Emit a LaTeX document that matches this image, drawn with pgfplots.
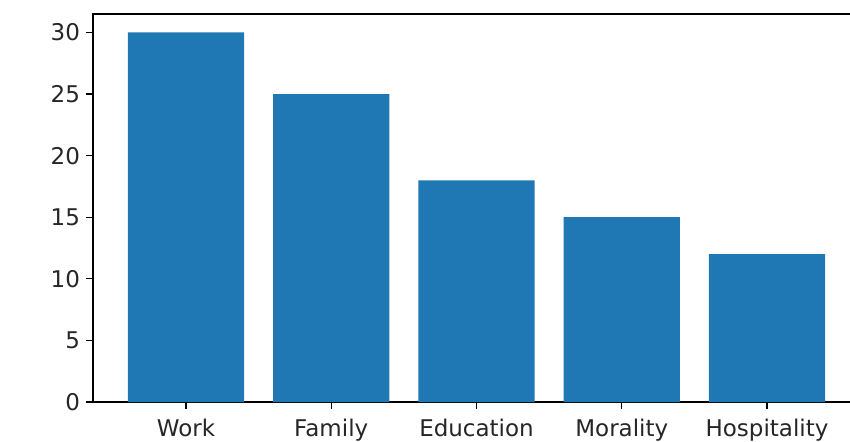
\documentclass[border=0pt]{standalone}
\usepackage{pgfplots}
\pgfplotsset{compat=1.18}
\usepackage{fontspec}
\setmainfont{DejaVu Sans}
\definecolor{mplblue}{HTML}{1F77B4}
\begin{document}
\begin{tikzpicture}
% the reference is cropped at the top and right
\clip (-46.5pt,-19.5pt) rectangle (378.5pt,201pt);
\begin{axis}[
    scale only axis,
    width=383.5pt, height=194pt,
    xmin=-0.64, xmax=4.64,
    ymin=0, ymax=31.5,
    xtick={0,1,2,3,4},
    xticklabels={Work,Family,Education,Morality,Hospitality},
    ytick={0,5,10,15,20,25,30},
    tick align=outside,
    tick pos=left,
    major tick length=3.5pt,
    axis line style={line width=0.6pt},
    every tick/.style={black, line width=0.6pt},
    tick label style={font=\fontsize{11.5}{13}\selectfont, text=black!85},
    /pgf/number format/assume math mode=true,
    yticklabel style={xshift=0.5pt},
    xticklabel style={yshift=-1.5pt},
]
\addplot[ybar, bar width=0.8, fill=mplblue, draw=none]
    coordinates {(0,30) (1,25) (2,18) (3,15) (4,12)};
\end{axis}
\end{tikzpicture}
\end{document}
